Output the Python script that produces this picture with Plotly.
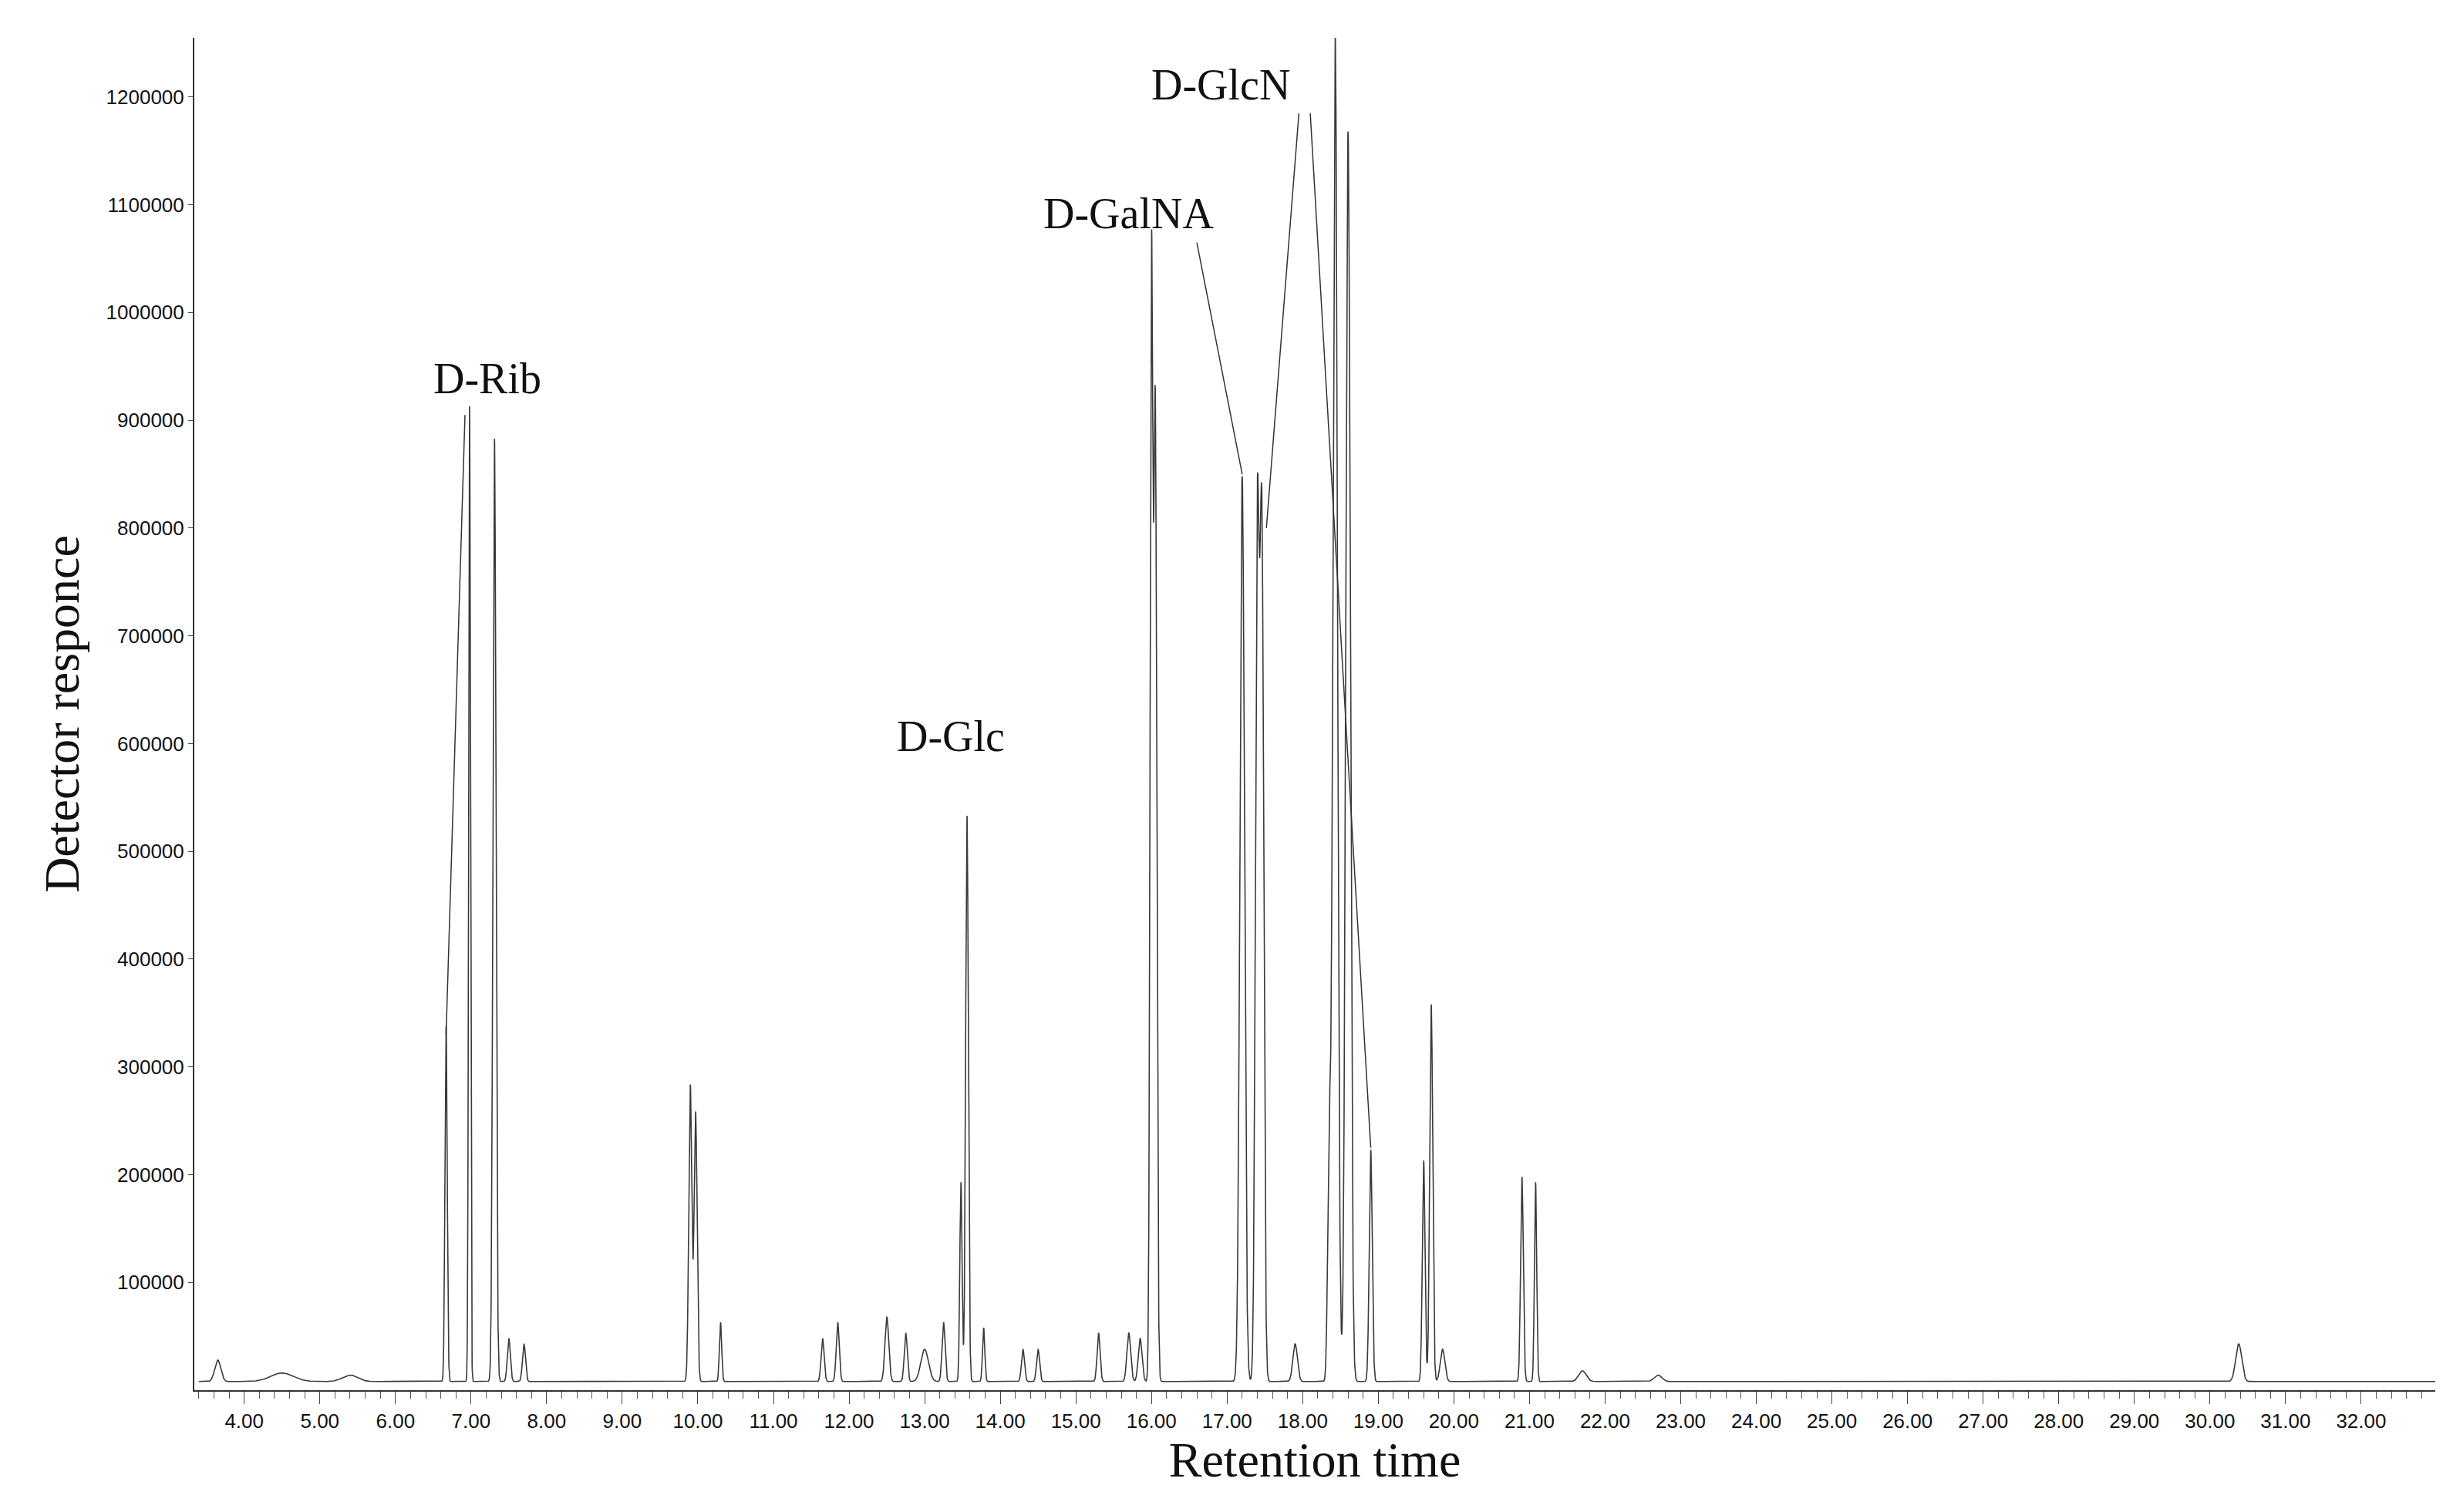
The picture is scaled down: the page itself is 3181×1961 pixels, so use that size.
import numpy as np
import plotly.graph_objects as go

peak_times = [3.65, 4.5, 5.4, 6.67, 6.98, 7.31, 7.5, 7.7, 9.9, 9.97, 10.3, 11.65, 11.85, 12.5, 12.75, 13.0, 13.25, 13.48,
              13.56, 13.78, 14.3, 14.5, 15.3, 15.7, 15.85, 16.0, 16.05, 17.2, 17.4, 17.46, 17.9, 18.35, 18.43, 18.6,
              18.9, 19.6, 19.7, 19.85, 20.9, 21.08, 21.7, 22.7, 30.38]
peak_heights = [20000, 8000, 6000, 330000, 905000, 875000, 40000, 35000, 275000, 250000, 55000, 40000, 55000, 60000,
                45000, 30000, 55000, 185000, 525000, 50000, 30000, 30000, 45000, 45000, 40000, 1025000, 900000,
                840000, 790000, 780000, 35000, 220000, 1250000, 1160000, 215000, 205000, 350000, 30000, 190000, 185000,
                10000, 6000, 35000]
peak_widths = [0.04, 0.15, 0.1, 0.015, 0.012, 0.02, 0.02, 0.02, 0.02, 0.02, 0.015, 0.02, 0.02, 0.025, 0.02, 0.05, 0.02,
               0.015, 0.018, 0.015, 0.02, 0.02, 0.02, 0.025, 0.025, 0.018, 0.02, 0.03, 0.025, 0.025, 0.03, 0.02,
               0.03, 0.03, 0.02, 0.018, 0.02, 0.03, 0.018, 0.015, 0.05, 0.05, 0.04]
baseline = 8000

t = np.arange(3.4, 33.0, 0.002)
y = np.full_like(t, baseline)
for c, h, w in zip(peak_times, peak_heights, peak_widths):
    y += h * np.exp(-0.5 * ((t - c) / w) ** 2)

tick_vals = list(range(4, 33))
tick_text = [f"{v:.2f}" for v in tick_vals]
y_ticks = list(range(100000, 1200001, 100000))

fig = go.Figure()
fig.add_trace(go.Scatter(x=t, y=y, mode="lines", line=dict(color="#3a3a3a", width=1.6), showlegend=False))

labels = [("D-Rib", 7.22, 915000), ("D-Glc", 13.35, 583000),
          ("D-GalNA", 15.7, 1068000), ("D-GlcN", 16.92, 1188000)]
for txt, tx, ty in labels:
    fig.add_annotation(x=tx, y=ty, text=txt, showarrow=False, yanchor="bottom",
                       font=dict(family="Liberation Serif", size=56, color="#111"))
pointer_lines = [(6.92, 905000, 6.67, 330000), (16.6, 1065000, 17.2, 850000), (17.95, 1185000, 17.52, 800000),
                 (18.1, 1185000, 18.9, 225000)]
for x0, y0, x1, y1 in pointer_lines:
    fig.add_shape(type="line", x0=x0, y0=y0, x1=x1, y1=y1, line=dict(color="#333", width=1.5))

fig.update_layout(
    width=3181, height=1961, plot_bgcolor="white", paper_bgcolor="white",
    margin=dict(l=244, r=31, t=41, b=166),
    font=dict(family="Liberation Sans", color="#111"),
)
fig.update_xaxes(range=[3.34, 32.98], tickvals=tick_vals, ticktext=tick_text, ticks="outside", ticklen=16,
                 tickfont=dict(size=26, family="Liberation Sans"), showgrid=False, zeroline=False,
                 showline=True, linecolor="#333", linewidth=2,
                 minor=dict(ticks="outside", dtick=0.2, ticklen=9, tickcolor="#555"),
                 title=dict(text="Retention time", font=dict(family="Liberation Serif", size=64), standoff=10))
fig.update_yaxes(range=[0, 1255000], tickvals=y_ticks, ticktext=[str(v) for v in y_ticks], ticks="outside",
                 ticklen=6, tickfont=dict(size=26, family="Liberation Sans"), showgrid=False, zeroline=False,
                 showline=True, linecolor="#333", linewidth=2,
                 title=dict(text="Detector responce", font=dict(family="Liberation Serif", size=64), standoff=14))
fig.write_html("out.html")
